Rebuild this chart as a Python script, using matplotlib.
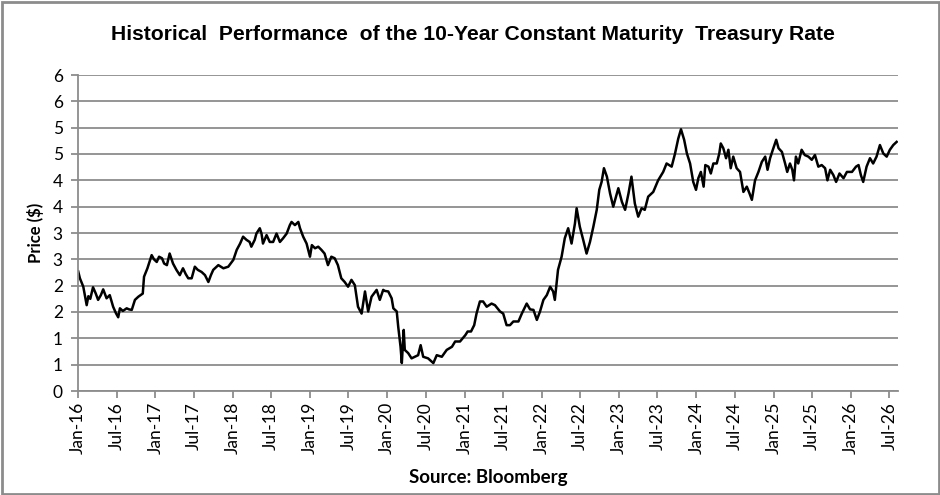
import matplotlib
matplotlib.use("Agg")
import matplotlib.pyplot as plt
import matplotlib.dates as mdates
import numpy as np
import pandas as pd
from matplotlib.patches import Rectangle

# ---------------- data ----------------
dates = [
    "2016-01-02", "2016-01-10", "2016-01-26", "2016-02-11", "2016-02-19", "2016-02-28",
    "2016-03-12", "2016-03-25", "2016-04-05", "2016-04-18", "2016-04-29", "2016-05-15",
    "2016-05-30", "2016-06-15", "2016-06-28", "2016-07-09", "2016-07-17", "2016-07-31",
    "2016-08-18", "2016-08-29", "2016-09-11", "2016-09-26", "2016-10-12", "2016-11-02",
    "2016-11-08", "2016-11-24", "2016-12-14", "2016-12-25", "2017-01-07", "2017-01-18",
    "2017-02-01", "2017-02-11", "2017-02-24", "2017-03-09", "2017-03-25", "2017-04-10",
    "2017-04-26", "2017-05-11", "2017-05-24", "2017-06-05", "2017-06-21", "2017-07-06",
    "2017-07-20", "2017-08-07", "2017-08-23", "2017-09-08", "2017-09-20", "2017-10-01",
    "2017-10-25", "2017-11-18", "2017-12-11", "2018-01-04", "2018-01-20", "2018-02-05",
    "2018-02-19", "2018-03-07", "2018-03-22", "2018-03-30", "2018-04-15", "2018-04-23",
    "2018-05-09", "2018-05-17", "2018-05-24", "2018-06-10", "2018-06-25", "2018-07-11",
    "2018-07-27", "2018-08-12", "2018-08-27", "2018-09-13", "2018-09-28", "2018-10-06",
    "2018-10-22", "2018-11-07", "2018-11-15", "2018-11-30", "2018-12-16", "2019-01-01",
    "2019-01-10", "2019-01-25", "2019-02-09", "2019-02-24", "2019-03-11", "2019-03-27",
    "2019-04-12", "2019-04-28", "2019-05-13", "2019-05-29", "2019-06-14", "2019-06-30",
    "2019-07-16", "2019-08-01", "2019-08-16", "2019-09-02", "2019-09-18", "2019-10-03",
    "2019-10-19", "2019-11-12", "2019-11-27", "2019-12-13", "2019-12-21", "2020-01-06",
    "2020-01-22", "2020-01-30", "2020-02-15", "2020-02-22", "2020-03-04", "2020-03-10",
    "2020-03-19", "2020-03-24", "2020-04-09", "2020-04-25", "2020-05-11", "2020-05-26",
    "2020-06-07", "2020-06-19", "2020-07-12", "2020-08-06", "2020-08-22", "2020-09-15",
    "2020-10-08", "2020-11-02", "2020-11-17", "2020-12-10", "2021-01-04", "2021-01-15",
    "2021-01-31", "2021-02-15", "2021-02-26", "2021-03-14", "2021-03-29", "2021-04-15",
    "2021-05-08", "2021-05-24", "2021-06-17", "2021-07-02", "2021-07-18", "2021-08-03",
    "2021-08-19", "2021-09-12", "2021-09-28", "2021-10-21", "2021-11-06", "2021-11-22",
    "2021-12-08", "2021-12-23", "2022-01-08", "2022-01-24", "2022-02-09", "2022-02-23",
    "2022-03-03", "2022-03-18", "2022-04-04", "2022-04-19", "2022-05-05", "2022-05-21",
    "2022-06-06", "2022-06-14", "2022-06-29", "2022-07-15", "2022-07-31", "2022-08-16",
    "2022-09-01", "2022-09-17", "2022-09-29", "2022-10-10", "2022-10-21", "2022-11-04",
    "2022-11-19", "2022-12-04", "2022-12-28", "2023-01-14", "2023-01-29", "2023-02-14",
    "2023-02-28", "2023-03-16", "2023-04-01", "2023-04-17", "2023-05-02", "2023-05-18",
    "2023-06-11", "2023-07-04", "2023-07-28", "2023-08-13", "2023-09-06", "2023-09-22",
    "2023-10-07", "2023-10-20", "2023-11-04", "2023-11-17", "2023-12-02", "2023-12-17",
    "2023-12-30", "2024-01-10", "2024-01-22", "2024-02-04", "2024-02-12", "2024-02-27",
    "2024-03-09", "2024-03-21", "2024-04-06", "2024-04-18", "2024-04-25", "2024-05-07",
    "2024-05-20", "2024-05-31", "2024-06-11", "2024-06-23", "2024-07-09", "2024-07-25",
    "2024-08-10", "2024-08-26", "2024-09-08", "2024-09-19", "2024-10-04", "2024-10-20",
    "2024-11-05", "2024-11-21", "2024-12-02", "2024-12-14", "2024-12-27", "2025-01-12",
    "2025-01-23", "2025-02-08", "2025-02-23", "2025-03-05", "2025-03-18", "2025-03-29",
    "2025-04-06", "2025-04-15", "2025-04-26", "2025-05-12", "2025-05-27", "2025-06-13",
    "2025-06-29", "2025-07-14", "2025-07-30", "2025-08-15", "2025-08-31", "2025-09-11",
    "2025-09-24", "2025-10-09", "2025-10-22", "2025-11-07", "2025-11-26", "2025-12-12",
    "2026-01-05", "2026-01-24", "2026-02-05", "2026-02-16", "2026-02-27", "2026-03-15",
    "2026-03-31", "2026-04-15", "2026-05-01", "2026-05-17", "2026-06-02", "2026-06-18",
    "2026-07-03", "2026-07-19", "2026-08-04",
]

rate = [
    2.27, 2.14, 1.98, 1.63, 1.80, 1.75,
    1.97, 1.85, 1.73, 1.82, 1.93, 1.76,
    1.82, 1.60, 1.48, 1.40, 1.57, 1.52,
    1.57, 1.55, 1.54, 1.73, 1.79, 1.85,
    2.17, 2.33, 2.58, 2.50, 2.45, 2.55,
    2.52, 2.42, 2.39, 2.61, 2.42, 2.30,
    2.20, 2.33, 2.22, 2.14, 2.14, 2.36,
    2.30, 2.26, 2.20, 2.07, 2.20, 2.30,
    2.39, 2.33, 2.36, 2.49, 2.68, 2.80,
    2.93, 2.87, 2.83, 2.74, 2.87, 2.99,
    3.09, 2.99, 2.80, 2.96, 2.83, 2.83,
    2.99, 2.83, 2.90, 2.99, 3.15, 3.21,
    3.15, 3.21, 3.09, 2.93, 2.80, 2.55,
    2.77, 2.71, 2.74, 2.68, 2.61, 2.39,
    2.55, 2.52, 2.39, 2.14, 2.07, 1.98,
    2.11, 2.01, 1.60, 1.47, 1.89, 1.51,
    1.79, 1.92, 1.73, 1.92, 1.90, 1.89,
    1.76, 1.57, 1.51, 1.22, 0.84, 0.53,
    1.16, 0.78, 0.72, 0.62, 0.65, 0.68,
    0.87, 0.65, 0.62, 0.53, 0.68, 0.65,
    0.78, 0.84, 0.94, 0.94, 1.06, 1.13,
    1.13, 1.25, 1.47, 1.70, 1.70, 1.60,
    1.66, 1.63, 1.51, 1.47, 1.25, 1.25,
    1.32, 1.32, 1.47, 1.66, 1.55, 1.54,
    1.35, 1.51, 1.73, 1.82, 1.98, 1.89,
    1.73, 2.30, 2.55, 2.90, 3.09, 2.80,
    3.18, 3.47, 3.12, 2.87, 2.61, 2.83,
    3.12, 3.44, 3.82, 3.97, 4.23, 4.07,
    3.75, 3.50, 3.85, 3.59, 3.44, 3.75,
    4.07, 3.56, 3.31, 3.47, 3.44, 3.69,
    3.78, 4.00, 4.16, 4.32, 4.26, 4.51,
    4.79, 4.97, 4.77, 4.51, 4.32, 3.97,
    3.82, 4.04, 4.16, 3.88, 4.29, 4.26,
    4.13, 4.32, 4.32, 4.51, 4.70, 4.61,
    4.42, 4.58, 4.23, 4.45, 4.23, 4.16,
    3.78, 3.88, 3.75, 3.63, 4.00, 4.16,
    4.35, 4.45, 4.20, 4.42, 4.58, 4.77,
    4.61, 4.54, 4.32, 4.16, 4.32, 4.20,
    4.00, 4.45, 4.32, 4.58, 4.48, 4.45,
    4.39, 4.48, 4.26, 4.29, 4.23, 4.00,
    4.20, 4.10, 3.97, 4.13, 4.04, 4.16,
    4.16, 4.26, 4.29, 4.10, 3.97, 4.26,
    4.42, 4.32, 4.45, 4.67, 4.51, 4.45,
    4.58, 4.67, 4.73,
]

x_tick_labels = ["Jan-16", "Jul-16", "Jan-17", "Jul-17", "Jan-18", "Jul-18",
                 "Jan-19", "Jul-19", "Jan-20", "Jul-20", "Jan-21", "Jul-21",
                 "Jan-22", "Jul-22", "Jan-23", "Jul-23", "Jan-24", "Jul-24",
                 "Jan-25", "Jul-25", "Jan-26", "Jul-26"]
y_ticks = [0, 0.5, 1, 1.5, 2, 2.5, 3, 3.5, 4, 4.5, 5, 5.5, 6]
y_tick_labels = ["0", "1", "1", "2", "2", "3", "3", "4", "4", "5", "5", "6", "6"]

title = "Historical  Performance  of the 10-Year Constant Maturity  Treasury Rate"
y_label = "Price ($)"
source = "Source: Bloomberg"

# ---------------- plot ----------------
W, H = 940, 495
fig = plt.figure(figsize=(W / 100, H / 100), dpi=100)
fig.patch.set_facecolor("white")

L, R, T, B = 78, 897.7, 75, 391
ax = fig.add_axes([L / W, 1 - B / H, (R - L) / W, (B - T) / H])

x = pd.to_datetime(dates)
ax.plot(x, rate, color="black", lw=1.8, solid_joinstyle="round")

ax.set_ylim(0, 6)
ax.set_xlim(pd.Timestamp("2016-01-01"), pd.Timestamp("2026-08-09"))

grid_col = "#8c8c8c"
ax.set_yticks(y_ticks)
ax.set_yticklabels(y_tick_labels, family="Lato", fontsize=12.5)
ax.yaxis.grid(True, color=grid_col, lw=1.3)
ax.set_axisbelow(True)

tick_pos = pd.date_range("2016-01-01", periods=len(x_tick_labels), freq="6MS")
ax.set_xticks(tick_pos)
ax.set_xticklabels(x_tick_labels, rotation=90, family="Lato", fontsize=12.5)

for s in ["top", "right"]:
    ax.spines[s].set_visible(False)
for s in ["left", "bottom"]:
    ax.spines[s].set_color(grid_col)
    ax.spines[s].set_linewidth(1.3)
ax.tick_params(axis="both", direction="out", length=5, width=1.3, color=grid_col,
               labelcolor="black")
ax.tick_params(axis="y", pad=6)
ax.tick_params(axis="x", pad=3)

fig.text(473 / W, 1 - 35 / H, title, ha="center", va="center",
         family="Liberation Sans", fontweight="bold", fontsize=15.2)
fig.text(35 / W, 1 - 233 / H, y_label, ha="center", va="center", rotation=90,
         family="Lato", fontweight="bold", fontsize=12)
fig.text(488 / W, 1 - 478 / H, source, ha="center", va="center",
         family="Lato", fontweight="bold", fontsize=13.5)

fig.patches.append(Rectangle((1.5 / W, 1.5 / H), (W - 3) / W, (H - 3) / H,
                             transform=fig.transFigure, fill=False,
                             edgecolor="#8c8c8c", lw=2))

fig.savefig("out.png", dpi=100)
